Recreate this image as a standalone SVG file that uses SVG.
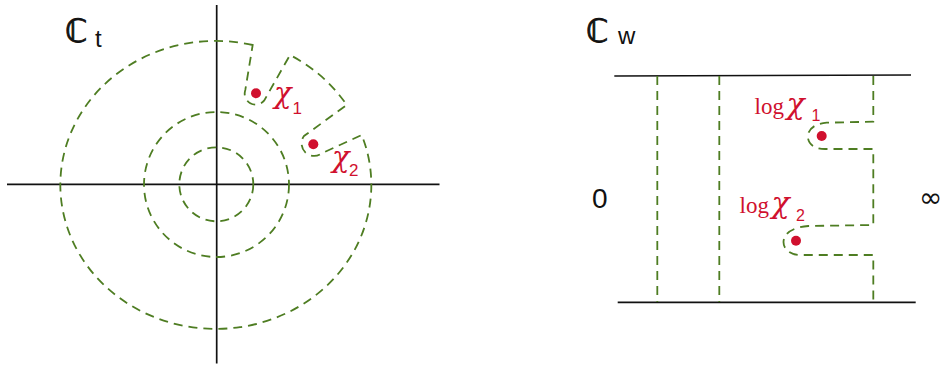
<svg xmlns="http://www.w3.org/2000/svg" width="943" height="368" viewBox="0 0 943 368">
<style>
.axis{stroke:#111;stroke-width:1.7;fill:none}
.dash{stroke:#4e7d22;stroke-width:1.8;fill:none;stroke-dasharray:9 6}
.pt{fill:#d0102e}
.red{fill:#d0102e}
.dbl{font-family:"DejaVu Sans",sans-serif;fill:#111;stroke:#111;stroke-width:0.9}
.inf{font-family:"DejaVu Sans",sans-serif;fill:#111}
.sans{font-family:"Liberation Sans",Arial,sans-serif}
.serif{font-family:"Liberation Serif","Times New Roman",serif}
.chi{font-family:"DejaVu Serif",serif;font-style:italic}
</style>
<g id="left-plane">
  <g id="axes-t">
    <line class="axis" x1="7" y1="184.3" x2="439.5" y2="184.3"/>
    <line class="axis" x1="216.7" y1="5" x2="216.7" y2="363.5"/>
  </g>
  <g id="contours-t">
    <circle class="dash" cx="216.3" cy="184.3" r="37"/>
    <circle class="dash" cx="216.5" cy="184.5" r="72.5"/>
    <path class="dash" d="M252.7 45 A155.5 144 0 1 0 361.7 135 L321.7 153.3 A12.5 12.5 0 0 1 304 136 L346.7 105 A158 147 0 0 0 290 55 L264.1 100.7 A11 11 0 0 1 245.3 90 Z"/>
  </g>
  <g id="point-x1">
    <circle class="pt" cx="256" cy="93.3" r="5"/>
    <text class="red" x="274" y="102.5"><tspan class="chi" font-size="29">χ</tspan><tspan class="sans" font-size="17" x="292.5" y="113.5">1</tspan></text>
  </g>
  <g id="point-x2">
    <circle class="pt" cx="313.3" cy="144.3" r="5"/>
    <text class="red" x="332" y="167"><tspan class="chi" font-size="29">χ</tspan><tspan class="sans" font-size="17" x="349" y="175.5">2</tspan></text>
  </g>
  <g id="label-Ct">
    <text class="dbl" x="65" y="42" font-size="32">ℂ</text>
    <text class="sans" x="95" y="47" font-size="24" fill="#111">t</text>
  </g>
</g>
<g id="right-plane">
  <g id="strip-edges">
    <line class="axis" x1="614.3" y1="76" x2="911" y2="75"/>
    <line class="axis" x1="617.7" y1="302.3" x2="915.7" y2="302.3"/>
  </g>
  <g id="contours-w">
    <line class="dash" x1="657.3" y1="76" x2="657.3" y2="302"/>
    <line class="dash" x1="719.3" y1="76" x2="719.3" y2="302"/>
    <path class="dash" d="M873.3 76 V121.7 L826.7 122.7 C814 123.5 807 130 808 138 C809 146 817 149 825 149 H873.3 V225 L808.3 226 C795 227 784 232 783.5 242 C783.5 250 791 255 800 255 H873.3 V302"/>
  </g>
  <g id="point-logx1">
    <circle class="pt" cx="821.7" cy="136" r="5"/>
    <text class="red" x="754.5" y="113.5"><tspan class="serif" font-size="23">log</tspan><tspan class="chi" font-size="30" x="786.5">χ</tspan><tspan class="sans" font-size="16" x="811.5" y="120.5">1</tspan></text>
  </g>
  <g id="point-logx2">
    <circle class="pt" cx="796" cy="240.7" r="5"/>
    <text class="red" x="739.5" y="213.3"><tspan class="serif" font-size="23">log</tspan><tspan class="chi" font-size="30" x="771.5">χ</tspan><tspan class="sans" font-size="16" x="796" y="220.5">2</tspan></text>
  </g>
  <g id="label-Cw">
    <text class="dbl" x="586" y="42" font-size="32">ℂ</text>
    <text class="sans" x="618" y="43.5" font-size="24" fill="#111">w</text>
  </g>
  <g id="label-ends">
    <text class="sans" x="592" y="208.3" font-size="28" fill="#111">0</text>
    <text class="inf" x="919" y="207" font-size="28">∞</text>
  </g>
</g>
</svg>
